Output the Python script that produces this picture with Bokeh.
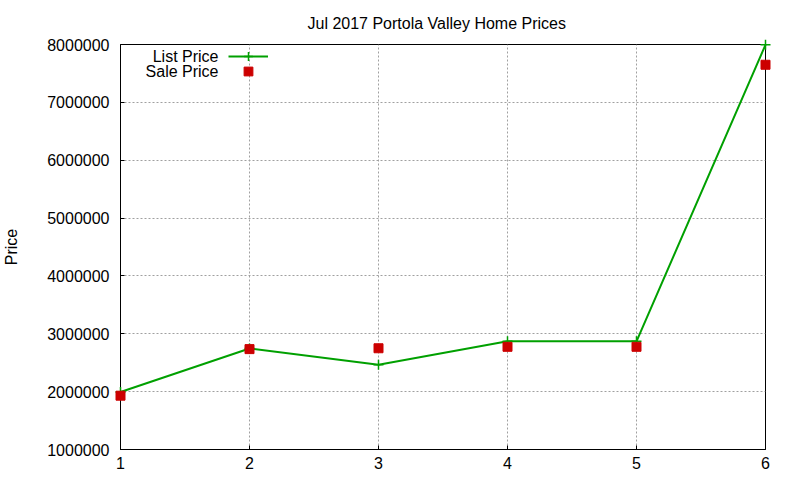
from bokeh.plotting import figure
from bokeh.models import (Range1d, FixedTicker, Legend, LegendItem,
                          Label, ColumnDataSource)
from bokeh.embed import file_html
from bokeh.resources import INLINE

# data
sale_no = [1, 2, 3, 4, 5, 6]
list_price = [1995000, 2745000, 2465000, 2870000, 2870000, 7995000]
sale_price = [1930000, 2735000, 2750000, 2775000, 2775000, 7650000]
y_ticks = [1000000, 2000000, 3000000, 4000000, 5000000, 6000000, 7000000, 8000000]
x_ticks = [1, 2, 3, 4, 5, 6]

FONT = "Liberation Sans"
GREEN = "#00a000"
RED = "#cc0000"

src = ColumnDataSource(dict(x=sale_no, lp=list_price, sp=sale_price))

p = figure(width=792, height=472, output_backend="svg", toolbar_location=None,
           x_range=Range1d(1, 6), y_range=Range1d(1000000, 8000000),
           min_border_left=119, min_border_right=27, min_border_top=44,
           min_border_bottom=23, title="Jul 2017 Portola Valley Home Prices")

p.title.align = "left"
p.title.offset = 187
p.title.standoff = 25
p.title.text_font = FONT
p.title.text_font_size = "16px"
p.title.text_font_style = "normal"
p.title.text_color = "black"
p.outline_line_color = "black"
p.outline_line_width = 1

for ax in p.xaxis + p.yaxis:
    ax.major_tick_in = 4
    ax.major_tick_out = 0
    ax.minor_tick_line_color = None
    ax.axis_line_color = "black"
    ax.major_label_text_font = FONT
    ax.major_label_text_font_size = "16px"
    ax.major_label_text_color = "black"

p.xaxis.ticker = FixedTicker(ticks=x_ticks)
p.yaxis.ticker = FixedTicker(ticks=y_ticks)
p.yaxis.formatter.use_scientific = False
p.yaxis.major_label_standoff = 11
p.xaxis.major_label_standoff = 7
p.yaxis.axis_label = "Price"
p.yaxis.axis_label_text_font = FONT
p.yaxis.axis_label_text_font_size = "16px"
p.yaxis.axis_label_text_font_style = "normal"
p.yaxis.axis_label_text_color = "black"
p.yaxis.axis_label_standoff = 24

p.grid.grid_line_color = "#a0a0a0"
p.grid.grid_line_dash = "2 2"
p.grid.grid_line_width = 1

ln = p.line("x", "lp", source=src, line_color=GREEN, line_width=2)
cr = p.scatter("x", "lp", source=src, marker="cross", size=10,
               line_color=GREEN, line_width=1.5)
sq = p.scatter("x", "sp", source=src, marker="square", size=9,
               fill_color=RED, line_color=RED)
for r in (ln, cr, sq):
    r.level = "overlay"

# gnuplot-style key: text first, sample after it
for renderers, ly in [([ln, cr], 382), ([sq], 367)]:
    p.add_layout(Legend(items=[LegendItem(label=" ", renderers=renderers)],
                        location=(108, ly), glyph_width=40, glyph_height=22,
                        label_width=0, label_standoff=0, padding=0, spacing=0,
                        margin=0, border_line_color=None,
                        background_fill_alpha=0, label_text_font_size="1px"))

for txt, yy in [("List Price", 393), ("Sale Price", 378)]:
    p.add_layout(Label(x=98, y=yy, x_units="screen", y_units="screen",
                       text=txt, text_align="right", text_baseline="middle",
                       text_font=FONT, text_font_size="16px",
                       text_color="black"))

open("out.html", "w").write(file_html(p, INLINE))
